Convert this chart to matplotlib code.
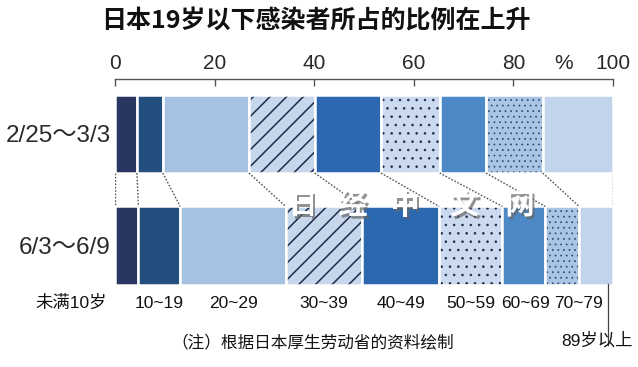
import matplotlib
matplotlib.use("Agg")
import matplotlib.pyplot as plt
import matplotlib.patheffects as pe
from matplotlib.transforms import blended_transform_factory
import numpy as np

plt.rcParams['font.family'] = ['Liberation Sans', 'Noto Sans CJK SC', 'DejaVu Sans']

# ---------------- data ----------------
title = "日本19岁以下感染者所占的比例在上升"
periods = ["2/25～3/3", "6/3～6/9"]
age_groups = ["未满10岁", "10~19", "20~29", "30~39", "40~49",
              "50~59", "60~69", "70~79", "89岁以上"]
share_feb = [4.4, 5.2, 17.3, 13.2, 13.3, 11.8, 9.3, 11.4, 14.1]
share_jun = [4.7, 8.4, 21.2, 15.3, 15.5, 12.7, 8.6, 6.8, 6.8]
x_ticks = [0, 20, 40, 60, 80, 100]
unit_label = "%"
note = "（注）根据日本厚生劳动省的资料绘制"
watermark = "日经中文网"

# ---------------- style ----------------
face = ["#2a3662", "#234f7e", "#a5c2e2", "#c6d6eb", "#2b68b0",
        "#cbdaee", "#4e89c7", "#a9c5e4", "#c1d4ec"]
hatches = [None, None, None, "//", None, "..", None, "...", None]
hatch_lw = [0, 0, 0, 1.1, 0, 0.6, 0, 0.5, 0]
hatch_col = ["#1f2b4c"] * 7 + ["#2a4670", "#1f2b4c"]

W, H = 638, 367
fig = plt.figure(figsize=(W / 100, H / 100), dpi=100)
top_px, bot_px = 79, 290
ax = fig.add_axes([115 / W, 1 - bot_px / H, 498 / W, (bot_px - top_px) / H])

bar_h = 0.70
rows = [share_feb, share_jun]
for yi, vals in enumerate(rows):
    lefts = np.concatenate([[0], np.cumsum(vals)[:-1]])
    for i, (l, v) in enumerate(zip(lefts, vals)):
        if hatches[i]:
            with plt.rc_context({'hatch.linewidth': hatch_lw[i]}):
                ax.barh(yi, v, left=l, height=bar_h, color=face[i],
                        edgecolor=hatch_col[i], hatch=hatches[i], linewidth=0)
        else:
            ax.barh(yi, v, left=l, height=bar_h, color=face[i], linewidth=0)
        ax.barh(yi, v, left=l, height=bar_h, facecolor="none",
                edgecolor="white", linewidth=1.8)

# dotted connectors between the two bars
b1 = np.concatenate([[0], np.cumsum(share_feb)])
b2 = np.concatenate([[0], np.cumsum(share_jun)])
for xa, xb in zip(b1, b2):
    ax.plot([xa, xb], [0 + bar_h / 2, 1 - bar_h / 2], ls=(0, (1.2, 1.2)),
            color="#555555", lw=1.0)

ax.set_xlim(0, 100)
ax.set_ylim((bot_px - 134) / 111.5, (top_px - 134) / 111.5)

for s in ["left", "right", "bottom"]:
    ax.spines[s].set_visible(False)
ax.spines["top"].set_color("#555555")
ax.spines["top"].set_linewidth(1.0)

ax.xaxis.tick_top()
ax.set_xticks(x_ticks)
ax.set_xticklabels([str(t) for t in x_ticks], fontsize=15, color="#2a2a2a")
ax.tick_params(axis="x", direction="in", length=5, width=1, color="#555555", pad=4)
ax.annotate(unit_label, xy=(90, 1), xycoords=("data", "axes fraction"),
            xytext=(0, 4), textcoords="offset points", ha="center", va="bottom",
            fontsize=15, color="#2a2a2a")

ax.set_yticks([0, 1])
ax.set_yticklabels(periods, fontsize=17.5, color="#2a2a2a")
ax.tick_params(axis="y", length=0, pad=3)

# category labels under the lower bar
tr = blended_transform_factory(ax.transData, fig.transFigure)
centers = b2[:-1] + np.array(share_jun) / 2
lab_y = 1 - 303 / H
lab_kw = dict(fontsize=12.5, color="#111111")
for i, name in enumerate(age_groups[:-1]):
    if i == 0:
        ax.text(-1.6, lab_y, name, transform=tr, ha="right", va="center", **lab_kw)
    else:
        cx = centers[i] + (3.3 if i == 7 else (0.3 if i == 6 else 0))
        ax.text(cx, lab_y, name, transform=tr, ha="center", va="center", **lab_kw)
ax.text(96.7, 1 - 340 / H, age_groups[-1], transform=tr, ha="center", va="center",
        **lab_kw)
ax.plot([99.0, 99.0], [1 - 284 / H, 1 - 345 / H], transform=tr, color="#444444",
        lw=0.9, clip_on=False)

fig.text(0.49, 1 - 344 / H, note, ha="center", va="center", fontsize=12,
         family=['Noto Sans CJK SC', 'DejaVu Sans'], color="#111111")

fig.text(316 / W, 1 - 21 / H, title, ha="center", va="center", fontsize=18,
         fontweight="heavy", family=['Noto Sans CJK SC', 'DejaVu Sans'], color="#111111")

# watermark
wm_x = [303, 353, 405, 465, 520]
for ch, px in zip(watermark, wm_x):
    fig.text(px / W, 1 - 205 / H, ch, ha="center", va="center", fontsize=21,
             fontweight="bold", family=['Noto Sans CJK SC'], color="white",
             path_effects=[pe.withSimplePatchShadow(offset=(1.5, -2),
                                                    shadow_rgbFace="#666666", alpha=0.7)])

fig.savefig("out.png", dpi=100, facecolor="white")
